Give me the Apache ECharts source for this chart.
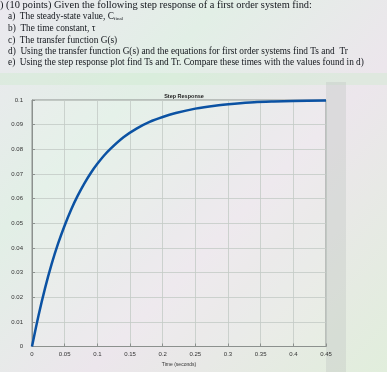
<!DOCTYPE html>
<html><head><meta charset="utf-8">
<script src="https://cdn.jsdelivr.net/npm/echarts@6/dist/echarts.min.js"></script>
<style>html,body{margin:0;padding:0;}#c{width:387px;height:372px;}</style>
</head><body><div id="c"></div>
<script>
// Data
const times = [0, 0.01, 0.02, 0.03, 0.04, 0.05, 0.06, 0.07, 0.08, 0.09, 0.10, 0.11, 0.12, 0.14, 0.16, 0.18, 0.20, 0.22, 0.25, 0.28, 0.31, 0.34, 0.37, 0.40, 0.45];
const amplitude = [0, 0.0126, 0.0237, 0.0334, 0.0418, 0.0491, 0.0556, 0.0612, 0.0661, 0.0704, 0.0741, 0.0774, 0.0802, 0.0849, 0.0884, 0.0911, 0.0931, 0.0947, 0.0965, 0.0977, 0.0985, 0.0991, 0.0994, 0.0996, 0.0998];
const questionLines = [
  ") (10 points) Given the following step response of a first order system find:",
  "a)  The steady-state value, C{sub|final}",
  "b)  The time constant, τ",
  "c)  The transfer function G(s)",
  "d)  Using the transfer function G(s) and the equations for first order systems find Ts and  Tr",
  "e)  Using the step response plot find Ts and Tr. Compare these times with the values found in d)"
];
const chartTitle = "Step Response";
const xName = "Time (seconds)";
const yName = "Amplitude";

const chart = echarts.init(document.getElementById('c'), null, {renderer: 'canvas'});
const lineY = [7, 18, 30, 42, 53, 64];
const lineX = [0, 8, 8, 8, 8, 8];
const lineSize = [10.4, 9.3, 9.3, 9.3, 9.3, 9.3];
const textEls = questionLines.map((t, i) => ({
  type: 'text', left: lineX[i], top: lineY[i] - lineSize[i] * 0.6,
  style: {
    text: t, fill: '#14171d', font: lineSize[i] + 'px "Liberation Serif"',
    rich: { sub: { fontSize: 5, fontFamily: 'Liberation Serif', fill: '#14171d', padding: [4, 0, 0, 0] } }
  }
}));
const fmt = v => String(+v.toFixed(2));
chart.setOption({
  backgroundColor: {
    type: 'linear', x: 0, y: 0, x2: 1, y2: 1,
    colorStops: [
      {offset: 0, color: '#ebe8ef'}, {offset: 0.3, color: '#e2efe6'},
      {offset: 0.6, color: '#ece6ec'}, {offset: 1, color: '#e1eedc'}
    ]
  },
  animation: false,
  graphic: [
    {type: 'rect', shape: {x: 0, y: 73, width: 387, height: 12}, style: {fill: 'rgba(200,235,200,0.35)'}},
    {type: 'rect', shape: {x: 326, y: 82, width: 20, height: 290}, style: {fill: 'rgba(190,195,192,0.35)'}},
    ...textEls
  ],
  title: {
    text: chartTitle, left: 179, top: 88, textAlign: 'center',
    textStyle: {fontSize: 5.5, fontWeight: 'bold', color: '#222', fontFamily: 'Liberation Sans'}
  },
  grid: {
    left: 32, right: 61, top: 100, bottom: 25.5, show: true, containLabel: false, outerBoundsMode: 'none',
    borderColor: '#8c918e', borderWidth: 1, backgroundColor: 'rgba(255,255,255,0.12)'
  },
  xAxis: {
    type: 'value', min: 0, max: 0.45, interval: 0.05,
    name: xName, nameLocation: 'middle', nameGap: 14,
    nameTextStyle: {fontSize: 5, color: '#333', fontFamily: 'Liberation Sans'},
    axisLine: {show: true, lineStyle: {color: '#8c918e'}},
    axisTick: {show: true, inside: true, length: 3, lineStyle: {color: '#8c918e'}},
    axisLabel: {fontSize: 6, color: '#333', margin: 5, formatter: fmt, fontFamily: 'Liberation Sans'},
    splitLine: {show: true, lineStyle: {color: '#c3cac5', width: 0.8}}
  },
  yAxis: {
    type: 'value', min: 0, max: 0.1, interval: 0.01,
    name: yName, nameLocation: 'middle', nameGap: 24, nameRotate: 90,
    nameTextStyle: {fontSize: 5, color: '#333', fontFamily: 'Liberation Sans'},
    axisLine: {show: true, lineStyle: {color: '#8c918e'}},
    axisTick: {show: true, inside: true, length: 3, lineStyle: {color: '#8c918e'}},
    axisLabel: {fontSize: 6, color: '#333', margin: 9, formatter: fmt, fontFamily: 'Liberation Sans'},
    splitLine: {show: true, lineStyle: {color: '#c3cac5', width: 0.8}}
  },
  series: [{
    type: 'line', data: times.map((t, i) => [t, amplitude[i]]),
    smooth: 0.3, showSymbol: false,
    lineStyle: {color: '#0b52a3', width: 2.5}
  }]
});
</script></body></html>
